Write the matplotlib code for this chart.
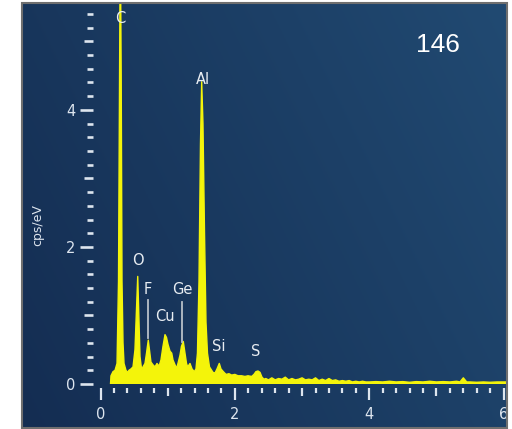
import numpy as np
import matplotlib
matplotlib.use("Agg")
import matplotlib.pyplot as plt
from matplotlib.patches import Rectangle

# ---- data ----
energy_keV = [0.149, 0.156, 0.186, 0.216, 0.246, 0.268, 0.283, 0.295, 0.308, 0.320,
              0.335, 0.350, 0.379, 0.402, 0.424, 0.454, 0.484, 0.513, 0.536, 0.554,
              0.573, 0.588, 0.613, 0.632, 0.662, 0.685, 0.711, 0.729, 0.751, 0.781,
              0.811, 0.841, 0.871, 0.900, 0.930, 0.960, 0.982, 1.004, 1.034, 1.060,
              1.079, 1.109, 1.134, 1.153, 1.183, 1.205, 1.232, 1.257, 1.280, 1.298,
              1.332, 1.362, 1.396, 1.421, 1.443, 1.466, 1.488, 1.506, 1.525, 1.548,
              1.570, 1.592, 1.622, 1.655, 1.674, 1.704, 1.734, 1.768, 1.793, 1.828,
              1.868, 1.912, 1.952, 2.000, 2.046, 2.100, 2.150, 2.195, 2.250, 2.284,
              2.313, 2.344, 2.374, 2.403, 2.433, 2.46, 2.50, 2.55, 2.60, 2.65,
              2.70, 2.75, 2.80, 2.85, 2.90, 2.95, 3.00, 3.05, 3.10, 3.15,
              3.20, 3.25, 3.30, 3.35, 3.40, 3.45, 3.50, 3.55, 3.60, 3.65,
              3.70, 3.75, 3.80, 3.85, 3.90, 3.95, 4.00, 4.10, 4.20, 4.30,
              4.40, 4.50, 4.60, 4.70, 4.80, 4.90, 5.00, 5.10, 5.20, 5.30,
              5.35, 5.40, 5.45, 5.50, 5.60, 5.70, 5.80, 5.90, 6.00, 6.05]
cps_per_eV = [0.00, 0.12, 0.18, 0.20, 0.30, 1.50, 4.50, 6.50, 4.50, 1.50,
              0.60, 0.30, 0.20, 0.17, 0.20, 0.22, 0.25, 0.50, 1.10, 1.57,
              0.90, 0.40, 0.20, 0.25, 0.30, 0.45, 0.64, 0.50, 0.32, 0.28,
              0.25, 0.30, 0.26, 0.35, 0.55, 0.72, 0.68, 0.58, 0.48, 0.45,
              0.35, 0.28, 0.23, 0.30, 0.42, 0.55, 0.62, 0.45, 0.30, 0.25,
              0.30, 0.22, 0.18, 0.22, 0.45, 1.50, 3.50, 4.41, 3.80, 2.20,
              0.90, 0.45, 0.25, 0.20, 0.17, 0.16, 0.22, 0.30, 0.22, 0.18,
              0.14, 0.15, 0.13, 0.14, 0.12, 0.12, 0.11, 0.12, 0.11, 0.14,
              0.18, 0.19, 0.17, 0.10, 0.07, 0.08, 0.06, 0.09, 0.06, 0.08,
              0.07, 0.10, 0.06, 0.08, 0.06, 0.07, 0.09, 0.06, 0.07, 0.06,
              0.09, 0.05, 0.07, 0.05, 0.08, 0.05, 0.06, 0.04, 0.05, 0.04,
              0.05, 0.03, 0.04, 0.03, 0.04, 0.03, 0.03, 0.035, 0.03, 0.04,
              0.03, 0.035, 0.025, 0.035, 0.03, 0.04, 0.03, 0.035, 0.03, 0.04,
              0.03, 0.09, 0.03, 0.03, 0.025, 0.03, 0.025, 0.03, 0.03, 0.03]

element_labels = ["C", "O", "F", "Cu", "Ge", "Al", "Si", "S"]
label_energy = [0.29, 0.55, 0.71, 0.96, 1.22, 1.53, 1.76, 2.31]
label_height = [5.33, 1.80, 1.38, 0.98, 1.38, 4.45, 0.54, 0.47]
marker_lines = {"F": (0.71, 0.67, 1.22), "Ge": (1.22, 0.62, 1.19)}

x_major = [0, 2, 4, 6]
x_mid = [1, 3, 5]
y_major = [0, 2, 4]
y_mid = [1, 3, 5]
spectrum_id = "146"

# ---- figure ----
W, H = 512, 429
fig = plt.figure(figsize=(W / 100, H / 100), dpi=100)
fig.patch.set_facecolor("white")

# background panel with gradient
px0, py0, px1, py1 = 22, 3, 507, 428
bg = fig.add_axes([px0 / W, 1 - py1 / H, (px1 - px0) / W, (py1 - py0) / H])
bg.set_axis_off()
gx = np.linspace(0, 1, 200)
gy = np.linspace(0, 1, 200)
GX, GY = np.meshgrid(gx, gy)
t = np.clip(0.7 * GX + 0.3 * (1 - GY), 0, 1)
c_dark = np.array([20, 45, 82]) / 255
c_light = np.array([33, 74, 114]) / 255
img = c_dark[None, None, :] * (1 - t[..., None]) + c_light[None, None, :] * t[..., None]
bg.imshow(img, aspect="auto", extent=[0, 1, 0, 1], origin="upper")
bg.set_xlim(0, 1)
bg.set_ylim(0, 1)
fig.patches.append(Rectangle((px0 / W, 1 - py1 / H), (px1 - px0) / W, (py1 - py0) / H,
                             transform=fig.transFigure, fill=False,
                             edgecolor="#6f6f6f", linewidth=1.5, zorder=10))

# main axes
ax_left, ax_right, ax_top, ax_bottom = 100.5, 507, 3, 384
ax = fig.add_axes([ax_left / W, 1 - ax_bottom / H, (ax_right - ax_left) / W,
                   (ax_bottom - ax_top) / H])
ax.set_facecolor("none")
ax.set_xlim(0, 6.05)
ax.set_ylim(0, 5.56)

yellow = "#f4f40a"
ax.fill_between(energy_keV, cps_per_eV, 0, color=yellow, linewidth=0)
ax.plot(energy_keV, cps_per_eV, color=yellow, linewidth=1.0)

for s in ax.spines.values():
    s.set_visible(False)
ax.spines["bottom"].set_position(("outward", 3))
ax.spines["left"].set_position(("outward", 5.4))

tick_col = "#dde5ee"
ax.set_xticks(x_major)
ax.set_xticks([v for v in np.round(np.arange(0, 6.01, 0.2), 2) if abs(v - round(v)) > 1e-6], minor=True)
ax.set_yticks(y_major)
ax.set_yticks([v for v in np.round(np.arange(0, 5.5, 0.2), 2) if abs(v - round(v)) > 1e-6], minor=True)
ax.tick_params(axis="x", which="major", length=8.5, width=1.6, color=tick_col,
               labelcolor=tick_col, labelsize=10.5, pad=5, direction="out")
ax.tick_params(axis="x", which="minor", length=3.6, width=1.6, color=tick_col, direction="out")
ax.tick_params(axis="y", which="major", length=9.5, width=1.9, color=tick_col,
               labelcolor=tick_col, labelsize=10.5, pad=3, direction="out")
ax.tick_params(axis="y", which="minor", length=4.2, width=1.9, color=tick_col, direction="out")

# medium ticks at odd integers
secx = ax.secondary_xaxis(-4 / (ax_bottom - ax_top))
secx.set_xticks(x_mid)
secx.set_xticklabels([])
secx.tick_params(length=6, width=1.6, color=tick_col, direction="out")
for s in secx.spines.values():
    s.set_visible(False)
secy = ax.secondary_yaxis(-7.5 / (ax_right - ax_left))
secy.set_yticks(y_mid)
secy.set_yticklabels([])
secy.tick_params(length=6.5, width=1.9, color=tick_col, direction="out")
for s in secy.spines.values():
    s.set_visible(False)

fig.text(38 / W, 1 - 225 / H, "cps/eV", rotation=90, color=tick_col, fontsize=9,
         ha="center", va="center")

# element labels
for lab, xe, ye in zip(element_labels, label_energy, label_height):
    ax.text(xe, ye, lab, color="#e8edf2", fontsize=10.5, ha="center", va="center",
            clip_on=False)
for lab, (xe, y0, y1) in marker_lines.items():
    ax.plot([xe, xe], [y0, y1], color="#b8c0c8", linewidth=1.3)

fig.text(438 / W, 1 - 45 / H, spectrum_id, color="white", fontsize=19,
         family="Liberation Sans", ha="center", va="center")

fig.savefig("out.png", dpi=100)
